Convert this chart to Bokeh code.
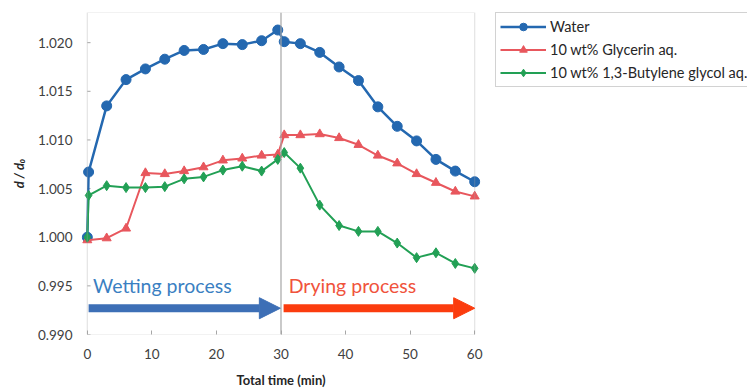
from bokeh.plotting import figure
from bokeh.layouts import row
from bokeh.models import (Range1d, BoxAnnotation, Span, Arrow, NormalHead, Label,
                          Legend, LegendItem, FixedTicker, CustomJSTickFormatter)
from bokeh.embed import file_html
from bokeh.resources import INLINE

# ---- data ----
time_a = [0, 0.2, 3, 6, 9, 12, 15, 18, 21, 24, 27, 29.5, 30.5,
          33, 36, 39, 42, 45, 48, 51, 54, 57, 60]
water = [1.0000, 1.0067, 1.0135, 1.0162, 1.0173, 1.0183, 1.0192, 1.0193, 1.0199,
         1.0198, 1.0202, 1.0213, 1.0201, 1.0199, 1.0190, 1.0175, 1.0161, 1.0134,
         1.0114, 1.0099, 1.0080, 1.0068, 1.0057]
butylene = [1.0000, 1.0043, 1.0053, 1.0051, 1.0051, 1.0052, 1.0060, 1.0062, 1.0069,
            1.0073, 1.0068, 1.0080, 1.0087, 1.0071, 1.0033, 1.0012, 1.0006, 1.0006,
            0.9994, 0.9979, 0.9984, 0.9973, 0.9968]
time_b = [0, 3, 6, 9, 12, 15, 18, 21, 24, 27, 29.5, 30.5,
          33, 36, 39, 42, 45, 48, 51, 54, 57, 60]
glycerin = [0.9997, 0.9999, 1.0009, 1.0066, 1.0065, 1.0068, 1.0072, 1.0079, 1.0081,
            1.0084, 1.0085, 1.0105, 1.0105, 1.0106, 1.0102, 1.0095, 1.0084, 1.0076,
            1.0065, 1.0056, 1.0047, 1.0042]
labels = ["Water", "10 wt% Glycerin aq.", "10 wt% 1,3-Butylene glycol aq."]
x_ticks = [0, 10, 20, 30, 40, 50, 60]
y_ticks = [0.990, 0.995, 1.000, 1.005, 1.010, 1.015, 1.020]
x_min, x_max = 0, 60
y_min, y_max = 0.990, 1.0231
switch_time = 30

FONT = "Lato"
GRAY = "#a6a6a6"
TXT = "#404040"
C_WATER = "#2468b0"
C_GLY = "#e8575d"
C_BUT = "#22a055"

p = figure(width=485, height=390, x_range=Range1d(-0.9, 60.9),
           y_range=Range1d(y_min, y_max), output_backend="svg",
           toolbar_location=None, min_border_left=81, min_border_right=5,
           min_border_top=12, min_border_bottom=56)
p.outline_line_color = None
p.grid.visible = False

# frame box
p.add_layout(BoxAnnotation(left=x_min, right=x_max, bottom=y_min, top=y_max,
                           fill_alpha=0, line_color=GRAY, line_width=1.2))
p.add_layout(Span(location=switch_time, dimension="height", line_color=GRAY, line_width=1.2))

# axes
p.xaxis.ticker = FixedTicker(ticks=x_ticks)
p.yaxis.ticker = FixedTicker(ticks=y_ticks)
p.yaxis.formatter = CustomJSTickFormatter(code="return tick.toFixed(3);")
for ax in (p.xaxis, p.yaxis):
    ax.axis_line_color = None
    ax.minor_tick_line_color = None
    ax.major_tick_out = 0
    ax.major_label_text_font = FONT
    ax.major_label_text_font_size = "13.5px"
    ax.major_label_text_color = TXT
    ax.axis_label_text_font = FONT
    ax.axis_label_text_font_size = "13px"
    ax.axis_label_text_color = "#262626"
p.xaxis.major_tick_in = 4
p.xaxis.major_tick_line_color = GRAY
p.xaxis.major_label_standoff = 14
p.xaxis.axis_label = "Total time (min)"
p.xaxis.axis_label_text_font_style = "bold"
p.xaxis.axis_label_standoff = 10
p.yaxis.major_tick_line_color = None
p.yaxis.major_label_standoff = 9
p.yaxis.axis_label = "d / d\u2080"
p.yaxis.axis_label_text_font_style = "bold italic"
p.yaxis.axis_label_standoff = 8

# y ticks drawn inside the box
p.segment(x0=[x_min] * len(y_ticks), y0=y_ticks, x1=[x_min + 0.5] * len(y_ticks),
          y1=y_ticks, line_color=GRAY, line_width=1)

# process arrows and labels
p.add_layout(Arrow(end=NormalHead(size=21, fill_color="#3d6fb6", line_color="#3d6fb6"),
                   x_start=0.2, y_start=0.9927, x_end=29.9, y_end=0.9927,
                   line_color="#3d6fb6", line_width=8))
p.add_layout(Arrow(end=NormalHead(size=21, fill_color="#fb3c0e", line_color="#fb3c0e"),
                   x_start=30.4, y_start=0.9927, x_end=60, y_end=0.9927,
                   line_color="#fb3c0e", line_width=8))
p.add_layout(Label(x=0.9, y=0.99505, text="Wetting process", text_font=FONT,
                   text_font_size="19.5px", text_color="#3a7fc2", text_baseline="middle"))
p.add_layout(Label(x=31.2, y=0.99505, text="Drying process", text_font=FONT,
                   text_font_size="19.5px", text_color="#f0533c", text_baseline="middle"))

# series
p.line(time_a, water, line_color=C_WATER, line_width=2.5)
p.scatter(time_a, water, marker="circle", size=10, fill_color=C_WATER, line_color=C_WATER)
p.line(time_b, glycerin, line_color=C_GLY, line_width=2)
p.scatter(time_b, glycerin, marker="triangle", size=9, fill_color=C_GLY, line_color=C_GLY)
p.line(time_a, butylene, line_color=C_BUT, line_width=2)
p.scatter(time_a, butylene, marker="diamond", size=10, fill_color=C_BUT, line_color=C_BUT)

# legend panel (separate canvas to the right of the chart)
q = figure(width=262, height=390, x_range=Range1d(0, 1), y_range=Range1d(0, 1),
           output_backend="svg", toolbar_location=None,
           x_axis_location=None, y_axis_location=None,
           min_border_left=0, min_border_right=0, min_border_top=0, min_border_bottom=0)
q.outline_line_color = None
q.grid.visible = False
items = []
for lab, col, mk, sz, lw in zip(labels, [C_WATER, C_GLY, C_BUT],
                                ["circle", "triangle", "diamond"], [7, 7, 7], [2.5, 2, 2]):
    lr = q.line(x=[-5, -4], y=[-5, -4], line_color=col, line_width=lw)
    sr = q.scatter(x=[-5], y=[-5], marker=mk, size=sz, fill_color=col, line_color=col)
    items.append(LegendItem(label=lab, renderers=[lr, sr]))

legend = Legend(items=items, location=(10, 247), orientation="vertical")
legend.border_line_color = GRAY
legend.padding = 4
legend.spacing = 4
legend.margin = 0
legend.glyph_width = 46
legend.glyph_height = 19
legend.label_height = 19
legend.label_standoff = 4
legend.label_text_font = FONT
legend.label_text_font_size = "14.5px"
legend.label_text_color = "#262626"
q.add_layout(legend)

open("out.html", "w").write(file_html(row(p, q), INLINE))
